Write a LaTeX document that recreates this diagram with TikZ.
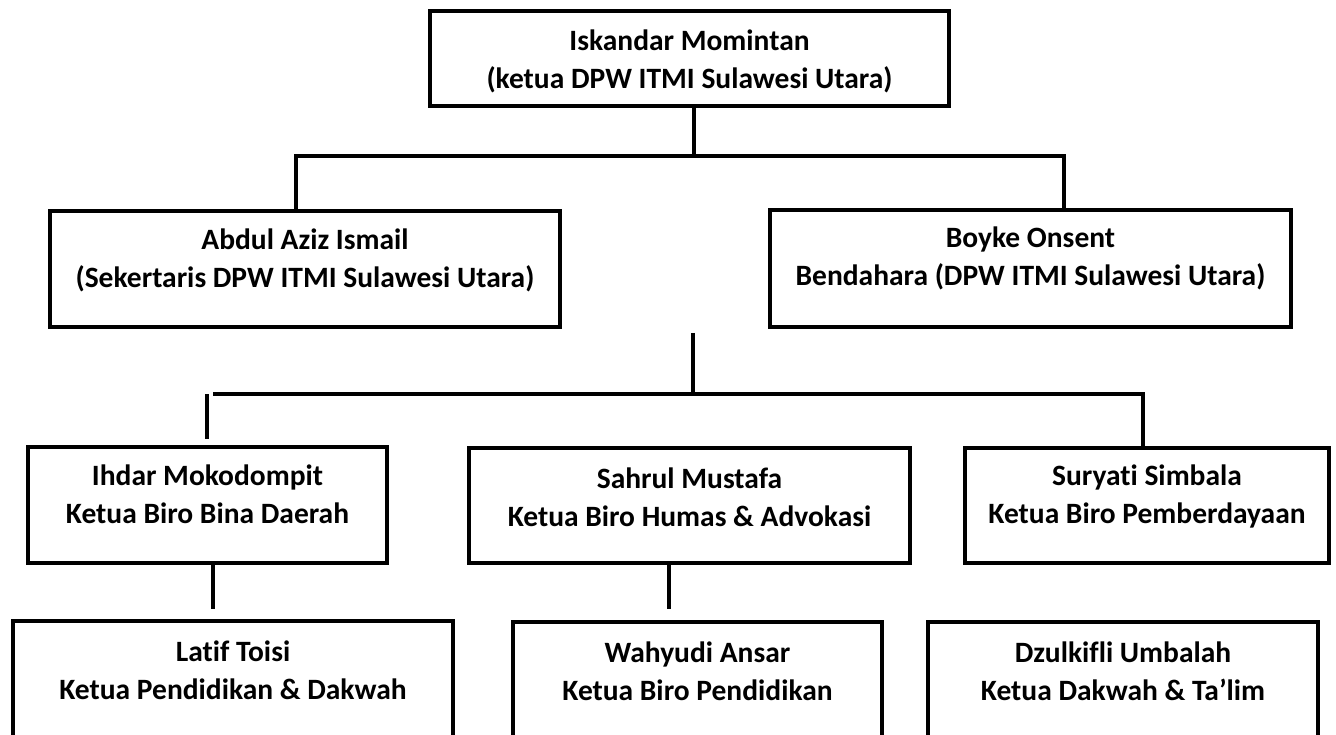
\documentclass[tikz,border=0pt]{standalone}
\usepackage{fontspec}
\setmainfont{Carlito}[Ligatures=NoCommon]
\begin{document}
\begin{tikzpicture}[x=1pt,y=-1pt,
  orgbox/.style={draw=black, line width=3.5pt, inner sep=0pt, fill=none},
  txt/.style={font=\fontsize{29.5}{38}\selectfont\bfseries, align=center, inner sep=0pt, text=black},
  conn/.style={draw=black, line width=3.5pt}]
\useasboundingbox[fill=white] (0,0) rectangle (1336,735);

% boxes
\node[orgbox, minimum width=519, minimum height=95]  (top)     at (689.5,58.5) {};
\node[orgbox, minimum width=510, minimum height=116] (abdul)   at (305,269) {};
\node[orgbox, minimum width=521, minimum height=117] (boyke)   at (1030.5,268.5) {};
\node[orgbox, minimum width=359, minimum height=116] (ihdar)   at (207.5,505) {};
\node[orgbox, minimum width=441, minimum height=115] (sahrul)  at (689.5,505.5) {};
\node[orgbox, minimum width=364, minimum height=115] (suryati) at (1147,505.5) {};
\node[orgbox, minimum width=440, minimum height=118] (latif)   at (233,680) {};
\node[orgbox, minimum width=369, minimum height=118] (wahyudi) at (697.5,681) {};
\node[orgbox, minimum width=390, minimum height=118] (dzul)    at (1123,681) {};

% texts
\node[txt] (topT)     at ([yshift=-2.5pt]top.center)  {Iskandar Momintan\\(ketua DPW ITMI Sulawesi Utara)};
\node[txt] (abdulT)   at ([yshift=9pt]abdul.center)   {Abdul Aziz Ismail\\(Sekertaris DPW ITMI Sulawesi Utara)};
\node[txt] (boykeT)   at ([yshift=10pt]boyke.center)  {Boyke Onsent\\Bendahara (DPW ITMI Sulawesi Utara)};
\node[txt] (ihdarT)   at ([yshift=10.5pt]ihdar.center) {Ihdar Mokodompit\\Ketua Biro Bina Daerah};
\node[txt] (sahrulT)  at ([yshift=8pt]sahrul.center)  {Sahrul Mustafa\\Ketua Biro Humas \& Advokasi};
\node[txt] (suryatiT) at ([yshift=9pt]suryati.center) {Suryati Simbala\\Ketua Biro Pemberdayaan};
\node[txt] (latifT)   at (233,670.5)   {Latif Toisi\\Ketua Pendidikan \& Dakwah};
\node[txt] (wahyudiT) at (697.5,671)   {Wahyudi Ansar\\Ketua Biro Pendidikan};
\node[txt] (dzulT)    at (1123,671)    {Dzulkifli Umbalah\\Ketua Dakwah \& Ta’lim};

% junction coordinates
\coordinate (j1) at (694,156);
\coordinate (hL) at (296,156);
\coordinate (hR) at (1064,156);
\coordinate (m0) at (693,333);
\coordinate (m1) at (693,394);
\coordinate (h2L) at (213,394);
\coordinate (h2R) at (1143,394);
\coordinate (v2a) at (207,394);
\coordinate (v2b) at (207,439);
\coordinate (d1) at (213,609);
\coordinate (d2) at (669,609);

% connectors
\draw[conn] (top.south -| j1) -- (j1);
\draw[conn] (abdul.north -| hL) |- (hR) -- (boyke.north -| hR);
\draw[conn] (m0) -- (m1);
\draw[conn] (h2L) -- (h2R) -- (suryati.north -| h2R);
\draw[conn] (v2a) -- (v2b);
\draw[conn] (ihdar.south -| d1) -- (d1);
\draw[conn] (sahrul.south -| d2) -- (d2);
\end{tikzpicture}
\end{document}
